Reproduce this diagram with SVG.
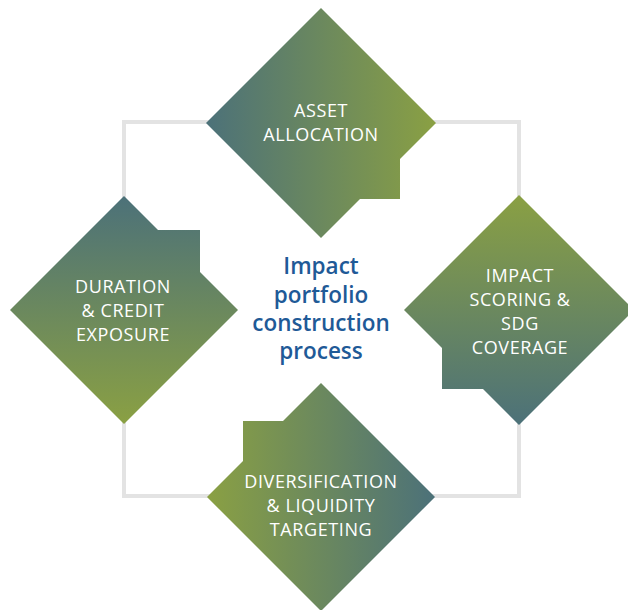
<svg xmlns="http://www.w3.org/2000/svg" width="628" height="610" viewBox="0 0 628 610">
  <defs>
    <linearGradient id="gH" x1="0" y1="0" x2="1" y2="0">
      <stop offset="0" stop-color="#4c7179"/>
      <stop offset="1" stop-color="#8aa043"/>
    </linearGradient>
    <linearGradient id="gHr" x1="0" y1="0" x2="1" y2="0">
      <stop offset="0" stop-color="#8aa043"/>
      <stop offset="1" stop-color="#4c7179"/>
    </linearGradient>
    <linearGradient id="gV" x1="0" y1="0" x2="0" y2="1">
      <stop offset="0" stop-color="#4c7179"/>
      <stop offset="1" stop-color="#8aa043"/>
    </linearGradient>
    <linearGradient id="gVr" x1="0" y1="0" x2="0" y2="1">
      <stop offset="0" stop-color="#8aa043"/>
      <stop offset="1" stop-color="#4c7179"/>
    </linearGradient>
  </defs>
  <style>
    .lbl { font-family: "Open Sans", "Noto Sans", sans-serif; font-size: 18px; letter-spacing: 0.6px; fill: #ffffff; text-anchor: middle; }
    .ctr { font-family: "Open Sans", "Noto Sans", sans-serif; font-size: 22.5px; font-weight: 600; fill: #1f5a97; text-anchor: middle; }
    .conn { fill: none; stroke: #e3e3e3; stroke-width: 4; }
  </style>
  <g id="connectors">
    <rect class="conn" x="124" y="122" width="395" height="374"/>
  </g>
  <g id="asset-allocation">
    <polygon fill="url(#gH)" points="321,8 436,123 400,159 400,199 360,199 321,238 206,123"/>
    <text class="lbl" x="321" y="117">ASSET</text>
    <text class="lbl" x="321" y="141">ALLOCATION</text>
  </g>
  <g id="duration-credit">
    <polygon fill="url(#gV)" points="124,196 158,230 200,230 200,272 238,310 124,424 10,310"/>
    <text class="lbl" x="123" y="293">DURATION</text>
    <text class="lbl" x="123" y="317">&amp; CREDIT</text>
    <text class="lbl" x="123" y="341">EXPOSURE</text>
  </g>
  <g id="impact-scoring">
    <polygon fill="url(#gVr)" points="519,195 634,310 519,425 483,389 442,389 442,348 404,310"/>
    <text class="lbl" x="520" y="282">IMPACT</text>
    <text class="lbl" x="520" y="306">SCORING &amp;</text>
    <text class="lbl" x="520" y="330">SDG</text>
    <text class="lbl" x="520" y="354">COVERAGE</text>
  </g>
  <g id="diversification">
    <polygon fill="url(#gHr)" points="321,383 435,497 321,611 207,497 243,461 243,421 283,421"/>
    <text class="lbl" x="321" y="488">DIVERSIFICATION</text>
    <text class="lbl" x="321" y="512">&amp; LIQUIDITY</text>
    <text class="lbl" x="321" y="536">TARGETING</text>
  </g>
  <g id="center-title">
    <text class="ctr" x="321" y="274">Impact</text>
    <text class="ctr" x="321" y="303">portfolio</text>
    <text class="ctr" x="321" y="331">construction</text>
    <text class="ctr" x="321" y="359">process</text>
  </g>
</svg>
